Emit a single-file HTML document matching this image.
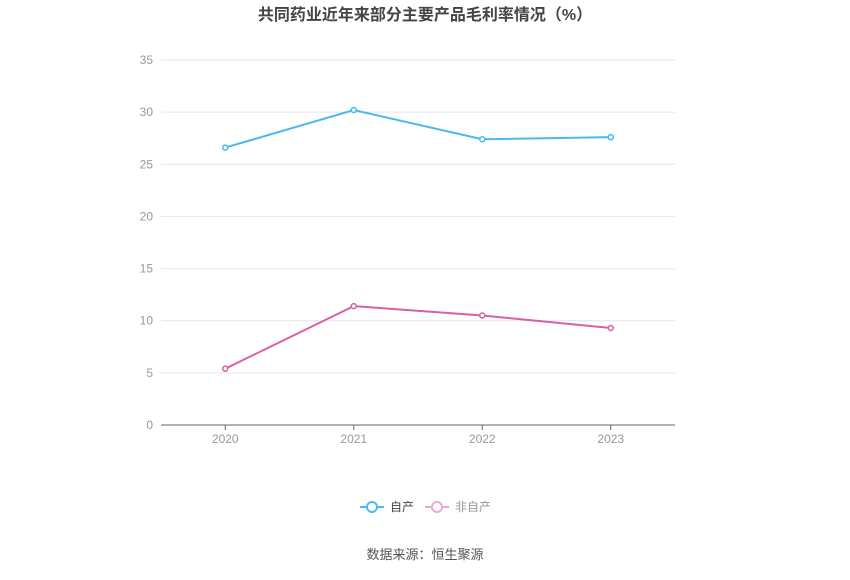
<!DOCTYPE html>
<html><head><meta charset="utf-8"><style>
body{margin:0;background:#fff;width:850px;height:575px;overflow:hidden;font-family:"Liberation Sans","Noto Sans CJK SC",sans-serif;}
</style></head><body>
<svg id="chart" width="850" height="575" xmlns="http://www.w3.org/2000/svg" font-family="Liberation Sans, Noto Sans CJK SC, sans-serif">
<text x="425" y="20" text-anchor="middle" font-size="16" font-weight="bold" fill="#444">共同药业近年来部分主要产品毛利率情况（%）</text>
<g id="grid"></g><g id="axes"></g><g id="series"></g>
<g>
<g>
<line x1="360" y1="507" x2="384" y2="507" stroke="#4bb8f0" stroke-width="2"/>
<circle cx="372" cy="507" r="5" fill="#fff" stroke="#4bb8f0" stroke-width="2"/>
<text x="390" y="511" font-size="12" fill="#444">自产</text></g>
<g>
<line x1="425" y1="507" x2="449" y2="507" stroke="#f0a8d0" stroke-width="2"/>
<circle cx="437" cy="507" r="5" fill="#fff" stroke="#f0a8d0" stroke-width="2"/>
<text x="455" y="511" font-size="12" fill="#999">非自产</text></g>
</g>
<text x="425" y="559" text-anchor="middle" font-size="13" fill="#555">数据来源：恒生聚源</text>
</svg>
<script>
const categories=["2020","2021","2022","2023"];
const selfMade=[26.6,30.2,27.4,27.6];
const nonSelf=[5.4,11.4,10.5,9.3];
const yTicks=[0,5,10,15,20,25,30,35];
const NS="http://www.w3.org/2000/svg";
const plotLeft=161,plotRight=675,plotTop=60,plotBottom=425,yMax=35;
const bw=(plotRight-plotLeft)/categories.length;
const xPos=i=>plotLeft+bw*(i+0.5);
const yPos=v=>plotBottom-(v/yMax)*(plotBottom-plotTop);
function mk(tag,attrs,parent){const e=document.createElementNS(NS,tag);for(const k in attrs)e.setAttribute(k,attrs[k]);parent.appendChild(e);return e;}
const gridG=document.getElementById('grid'),axesG=document.getElementById('axes'),serG=document.getElementById('series');
yTicks.forEach(t=>{
 if(t>0){const l=mk('line',{x1:plotLeft,x2:plotRight,y1:yPos(t),y2:yPos(t),stroke:'#e3e6ee','stroke-width':1},gridG);
 
 }
 const tx=mk('text',{x:153,y:yPos(t)+4,'text-anchor':'end','font-size':12,fill:'#999'},axesG);tx.textContent=t;
 
 
});
const ax=mk('line',{x1:plotLeft,x2:plotRight,y1:plotBottom,y2:plotBottom,stroke:'#666','stroke-width':1},axesG);


categories.forEach((c,i)=>{
 mk('line',{x1:xPos(i),x2:xPos(i),y1:plotBottom,y2:plotBottom+5,stroke:'#666'},axesG);
 const tx=mk('text',{x:xPos(i),y:plotBottom+18,'text-anchor':'middle','font-size':12,fill:'#999'},axesG);tx.textContent=c;
 
 
});
function draw(vals,color,name){
 const p=mk('polyline',{points:vals.map((v,i)=>xPos(i)+','+yPos(v)).join(' '),fill:'none',stroke:color,'stroke-width':2},serG);
 
 
 vals.forEach((v,i)=>{const c=mk('circle',{cx:xPos(i),cy:yPos(v),r:2.5,fill:'#fff',stroke:color,'stroke-width':1.5},serG);
 
 });
}
draw(selfMade,'#4bb8f0','self-made');
draw(nonSelf,'#d85fa8','non-self-made');
</script>
</body></html>
